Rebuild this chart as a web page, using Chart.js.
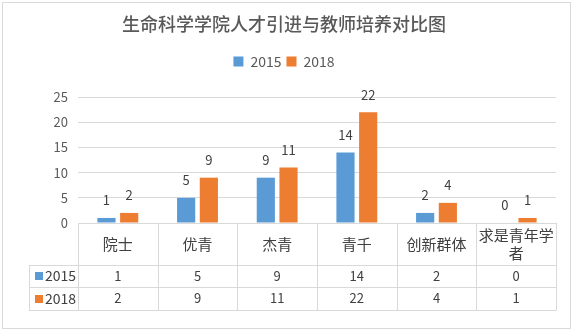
<!DOCTYPE html>
<html>
<head>
<meta charset="utf-8">
<script src="https://cdn.jsdelivr.net/npm/chart.js@4.4.0/dist/chart.umd.min.js"></script>
<style>
  html, body { margin: 0; padding: 0; background: #fff; }
  canvas { display: block; }
</style>
</head>
<body>
<canvas id="chart" width="575" height="331"></canvas>
<script>
// Talent recruitment and faculty development, 2015 vs 2018
const categories = ['院士', '优青', '杰青', '青千', '创新群体', '求是青年学者'];
const seriesNames = ['2015', '2018'];
const values2015 = [1, 5, 9, 14, 2, 0];
const values2018 = [2, 9, 11, 22, 4, 1];
const yTicks = [0, 5, 10, 15, 20, 25];
const seriesColors = ['#5B9BD5', '#ED7D31'];

const FONT = '"Noto Sans CJK SC", "Noto Sans", sans-serif';
const GRID = '#d9d9d9';
const TEXT = '#404040';
const SOFT = '#595959';

// white page with a thin frame around the whole chart
const framePlugin = {
  id: 'frame',
  beforeDraw(chart) {
    const { ctx, width, height } = chart;
    ctx.save();
    ctx.fillStyle = '#fff';
    ctx.fillRect(0, 0, width, height);
    ctx.strokeStyle = GRID;
    ctx.lineWidth = 1;
    ctx.strokeRect(2.5, 2.5, 568, 326);
    ctx.restore();
  }
};

// value labels above each bar
const barLabelPlugin = {
  id: 'barLabels',
  afterDatasetsDraw(chart) {
    const { ctx } = chart;
    ctx.save();
    ctx.font = '13px ' + FONT;
    ctx.fillStyle = TEXT;
    ctx.textAlign = 'center';
    ctx.textBaseline = 'middle';
    chart.data.datasets.forEach((ds, di) => {
      chart.getDatasetMeta(di).data.forEach((bar, i) => {
        ctx.fillText(String(ds.data[i]), bar.x, bar.y - 17.5);
      });
    });
    ctx.restore();
  }
};

// split a label into lines that fit the column width
function wrapText(ctx, text, maxWidth) {
  const lines = [];
  let cur = '';
  for (const ch of text) {
    if (cur && ctx.measureText(cur + ch).width > maxWidth) {
      lines.push(cur);
      cur = ch;
    } else {
      cur += ch;
    }
  }
  if (cur) lines.push(cur);
  return lines;
}

// data table under the plot: category header row plus one row per series
const dataTablePlugin = {
  id: 'dataTable',
  afterDraw(chart) {
    const { ctx, chartArea } = chart;
    const xScale = chart.scales.x;
    const n = categories.length;
    const colW = (chartArea.right - chartArea.left) / n;
    const top = chartArea.bottom;
    const headerBottom = top + 42;
    const rowH = [22, 23];
    const rowTops = [headerBottom, headerBottom + rowH[0]];
    const tableBottom = rowTops[1] + rowH[1];
    const legendLeft = 29;
    const px = v => Math.round(v) + 0.5;

    ctx.save();
    ctx.strokeStyle = GRID;
    ctx.lineWidth = 1;
    ctx.beginPath();
    [headerBottom, rowTops[1], tableBottom].forEach(y => {
      ctx.moveTo(legendLeft, px(y));
      ctx.lineTo(chartArea.right, px(y));
    });
    for (let i = 0; i <= n; i++) {
      const xx = px(xScale.getPixelForValue(0) - colW / 2 + i * colW);
      ctx.moveTo(xx, top);
      ctx.lineTo(xx, px(tableBottom));
    }
    ctx.moveTo(px(legendLeft), px(headerBottom));
    ctx.lineTo(px(legendLeft), px(tableBottom));
    ctx.stroke();

    // category header
    ctx.fillStyle = TEXT;
    ctx.textAlign = 'center';
    ctx.textBaseline = 'middle';
    ctx.font = '15px ' + FONT;
    const headerMid = (top + headerBottom) / 2;
    categories.forEach((cat, i) => {
      const cx = xScale.getPixelForValue(i);
      const lines = wrapText(ctx, cat, colW - 2);
      const lh = 18;
      const y0 = headerMid - (lines.length - 1) * lh / 2;
      lines.forEach((ln, k) => ctx.fillText(ln, cx, y0 + k * lh));
    });

    // series rows
    const rows = [values2015, values2018];
    rows.forEach((vals, r) => {
      const mid = rowTops[r] + rowH[r] / 2;
      ctx.font = '13px ' + FONT;
      ctx.textAlign = 'center';
      ctx.fillStyle = TEXT;
      vals.forEach((v, i) => ctx.fillText(String(v), xScale.getPixelForValue(i), mid));
      ctx.fillStyle = seriesColors[r];
      ctx.fillRect(35, Math.round(mid) - 4, 8, 8);
      ctx.fillStyle = TEXT;
      ctx.textAlign = 'left';
      ctx.font = '14px ' + FONT;
      ctx.fillText(seriesNames[r], 45, mid);
    });
    ctx.restore();
  }
};

new Chart(document.getElementById('chart'), {
  type: 'bar',
  data: {
    labels: categories,
    datasets: [
      { label: seriesNames[0], data: values2015, backgroundColor: seriesColors[0] },
      { label: seriesNames[1], data: values2018, backgroundColor: seriesColors[1] }
    ]
  },
  options: {
    responsive: false,
    animation: false,
    datasets: { bar: { categoryPercentage: 0.57, barPercentage: 0.8 } },
    layout: { padding: { top: 0, left: 12, right: 19, bottom: 0 } },
    plugins: {
      title: {
        display: true,
        text: '生命科学学院人才引进与教师培养对比图',
        color: SOFT,
        font: { family: FONT, size: 18, weight: '500' },
        padding: { top: 13, bottom: 15 }
      },
      legend: {
        display: true,
        position: 'top',
        labels: {
          color: SOFT,
          font: { family: FONT, size: 14 },
          boxWidth: 10,
          boxHeight: 10,
          padding: 5
        }
      },
      // empty spacer between the legend and the plot
      subtitle: {
        display: true,
        text: '',
        weight: 500,
        font: { family: FONT, size: 10, lineHeight: 1 },
        padding: { top: 0, bottom: 8.5 }
      },
      tooltip: { enabled: false }
    },
    scales: {
      x: {
        grid: { display: false },
        border: { display: false },
        ticks: { display: false },
        afterFit(scale) { scale.height = 108; }
      },
      y: {
        min: 0,
        max: 25,
        afterBuildTicks(scale) { scale.ticks = yTicks.map(v => ({ value: v })); },
        grid: { color: GRID, lineWidth: 1, drawTicks: false },
        border: { display: false },
        ticks: { color: SOFT, font: { family: FONT, size: 13 }, padding: 10 },
        afterFit(scale) { scale.width = 66; }
      }
    }
  },
  plugins: [framePlugin, barLabelPlugin, dataTablePlugin]
});
</script>
</body>
</html>
